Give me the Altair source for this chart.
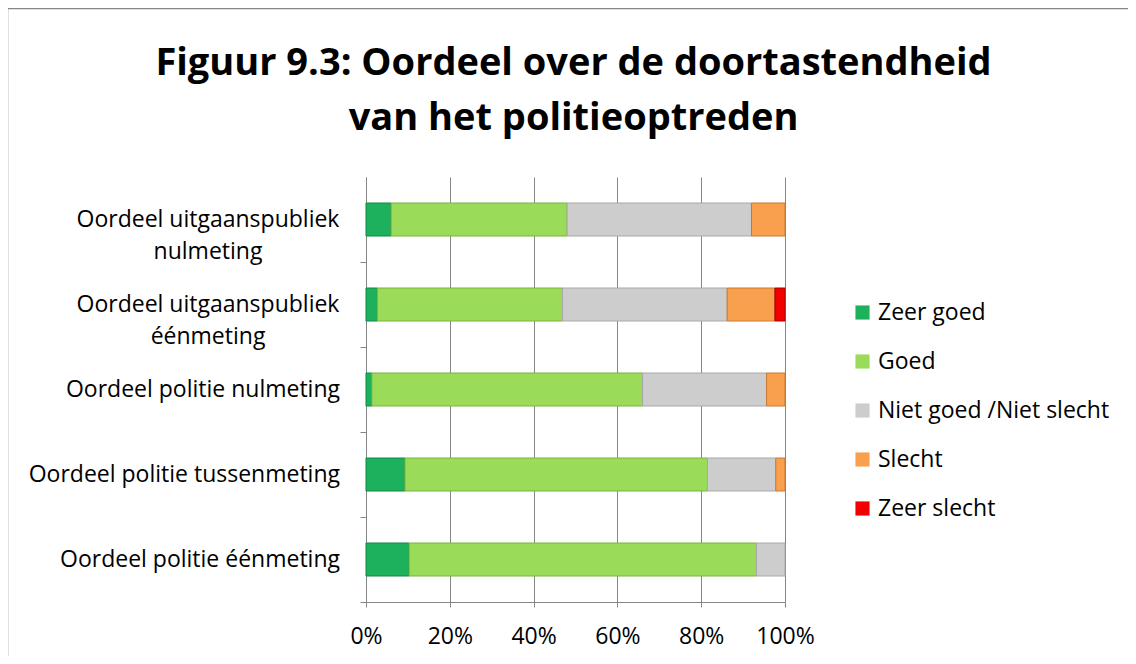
import altair as alt
import pandas as pd

# ---- data ----
categories = [
    "Oordeel uitgaanspubliek nulmeting",
    "Oordeel uitgaanspubliek éénmeting",
    "Oordeel politie nulmeting",
    "Oordeel politie tussenmeting",
    "Oordeel politie éénmeting",
]
label_text = [
    "Oordeel uitgaanspubliek\nnulmeting",
    "Oordeel uitgaanspubliek\néénmeting",
    "Oordeel politie nulmeting",
    "Oordeel politie tussenmeting",
    "Oordeel politie éénmeting",
]
series = ["Zeer goed", "Goed", "Niet goed /Niet slecht", "Slecht", "Zeer slecht"]
zeer_goed = [6.0, 2.7, 1.4, 9.3, 10.3]
goed = [42.0, 44.2, 64.6, 72.2, 82.9]
neutraal = [44.0, 39.3, 29.6, 16.3, 6.8]
slecht = [8.0, 11.4, 4.4, 2.2, 0.0]
zeer_slecht = [0.0, 2.4, 0.0, 0.0, 0.0]
x_ticks = [0, 0.2, 0.4, 0.6, 0.8, 1.0]

fills = ["#1DB15E", "#9ADB5A", "#CDCDCD", "#F9A04F", "#F20000"]
strokes = ["#0E8A44", "#79B43E", "#A8A8A8", "#C8782F", "#A80000"]

FONT = "Open Sans"
FS = 23

rows = []
for s_i, (name, vals) in enumerate(zip(series, [zeer_goed, goed, neutraal, slecht, zeer_slecht])):
    for c, v in zip(categories, vals):
        if v > 0:
            rows.append({"cat": c, "serie": name, "order": s_i, "val": v / 100.0})
df = pd.DataFrame(rows)

lab = pd.DataFrame({"cat": categories, "text": label_text,
                    "multi": ["\n" in t for t in label_text]})

y_scale = alt.Scale(paddingInner=0, paddingOuter=0)

bars = alt.Chart(df).mark_bar(strokeWidth=1, size=33).encode(
    x=alt.X("val:Q", stack="zero",
            scale=alt.Scale(domain=[0, 1], nice=False),
            axis=alt.Axis(title=None, format=".0%", values=x_ticks, grid=True,
                          gridColor="#868686", tickColor="#868686", domainColor="#868686",
                          tickSize=5, labelFontSize=FS, labelFont=FONT, labelColor="#000000",
                          labelPadding=18, labelFlush=False)),
    y=alt.Y("cat:N", sort=categories, scale=y_scale,
            axis=alt.Axis(title=None, labels=False, ticks=True, tickSize=6,
                          bandPosition=1, tickColor="#868686", domainColor="#868686",
                          grid=False)),
    color=alt.Color("serie:N", sort=series,
                    scale=alt.Scale(domain=series, range=fills),
                    legend=alt.Legend(title=None, orient="none", legendX=485, legendY=124,
                                      symbolType="square", symbolSize=200,
                                      symbolStrokeWidth=0, labelLimit=400,
                                      labelFont=FONT, labelFontSize=FS, labelColor="#000000",
                                      rowPadding=25, labelOffset=4)),
    stroke=alt.Stroke("serie:N", scale=alt.Scale(domain=series, range=strokes), legend=None),
    order=alt.Order("order:Q", sort="ascending"),
)

single = alt.Chart(lab).transform_filter("!datum.multi").mark_text(
    align="right", baseline="middle", font=FONT, fontSize=FS, color="#000000"
).encode(y=alt.Y("cat:N", sort=categories, scale=y_scale), x=alt.value(-26), text="text:N")

multi = alt.Chart(lab).transform_filter("datum.multi").mark_text(
    align="center", baseline="middle", font=FONT, fontSize=FS, color="#000000",
    lineBreak="\n", lineHeight=32
).encode(y=alt.Y("cat:N", sort=categories, scale=y_scale), x=alt.value(-158), text="text:N")

border = alt.Chart(lab).transform_filter("datum.cat == 'Oordeel politie nulmeting'").mark_rect(
    fill=None, stroke="#868686", strokeWidth=1.5
).encode(x=alt.value(-358.5), x2=alt.value(790), y=alt.value(-168.5), y2=alt.value(500))

chart = alt.layer(border, bars, single, multi).properties(
    width=419, height=425,
    autosize=alt.AutoSizeParams(type="none"),
    padding={"left": 358, "top": 169, "right": 343, "bottom": 54},
    title=alt.TitleParams(
        text=["Figuur 9.3: Oordeel over de doortastendheid", "van het politieoptreden"],
        font=FONT, fontSize=38, fontWeight="bold", color="#000000",
        anchor="middle", lineHeight=55, offset=-160, baseline="alphabetic", dx=-2),
).configure_view(stroke=None)

chart.save("out.html", embed_options={"renderer": "svg", "actions": False})
